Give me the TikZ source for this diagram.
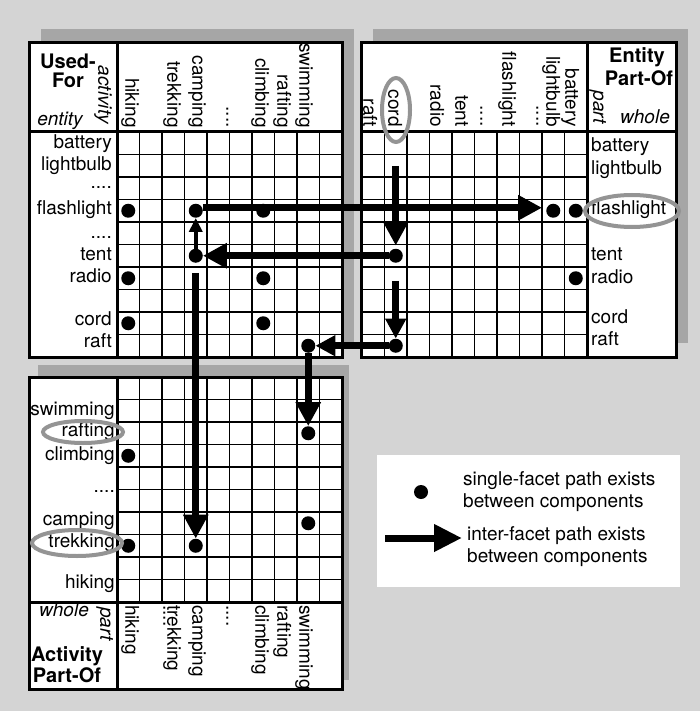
\documentclass[tikz,border=0pt]{standalone}
\usepackage{fontspec}
\setmainfont{TeX Gyre Heros}
\usetikzlibrary{arrows.meta}
\definecolor{bg}{HTML}{D4D4D4}
\definecolor{shadowc}{HTML}{A6A6A6}
\definecolor{ringc}{HTML}{949494}
\newcommand{\fourdots}{.{}.{}.{}.}
\begin{document}
\begin{tikzpicture}[x=1pt,y=-1pt,
  lab/.style={font=\fontsize{19}{21}\selectfont, inner sep=0pt, text height=13.5pt, text depth=4pt},
  dotlab/.style={lab, text height=3pt, text depth=0pt},
  collab/.style={lab, rotate=-90},
  boldlab/.style={lab, font=\fontsize{20}{22}\selectfont\bfseries},
  itlab/.style={lab, font=\fontsize{19}{21}\selectfont\itshape},
  gridline/.style={line width=1.8pt},
  frame/.style={line width=3pt},
  dot/.style={circle, fill=black, minimum size=14pt, inner sep=0pt},
  ring/.style={draw=ringc, line width=4pt},
  bigarrow/.style={line width=7pt, -{Triangle[length=24pt,width=24pt]}},
  midarrow/.style={line width=7pt, -{Triangle[length=20pt,width=20pt]}},
  smallarrow/.style={line width=4.5pt, -{Triangle[length=14pt,width=13pt]}}]
\useasboundingbox (0,0) rectangle (700,711);
\fill[bg] (0,0) rectangle (700,711);
% shadows
\fill[shadowc] (41,29) rectangle (354,343);
\fill[shadowc] (373,29) rectangle (688,343);
\fill[shadowc] (38,365) rectangle (349,680);
% panels
\fill[white] (29,43) rectangle (342,357);
\fill[white] (361,43) rectangle (676,357);
\fill[white] (29,377) rectangle (342,689);
% legend box
\fill[white] (377,455) rectangle (680,587);
% grids
\foreach \i in {1,2,3,4,5,6,7,8,9} {
  \draw[gridline] ({117+22.5*\i},132) -- ({117+22.5*\i},357);
  \draw[gridline] (117,{132+22.5*\i}) -- (342,{132+22.5*\i});
  \draw[gridline] ({362+22.5*\i},132) -- ({362+22.5*\i},357);
  \draw[gridline] (361,{132+22.5*\i}) -- (587,{132+22.5*\i});
  \draw[gridline] ({117+22.5*\i},377) -- ({117+22.5*\i},602);
  \draw[gridline] (117,{377+22.5*\i}) -- (342,{377+22.5*\i});
}
% frames
\draw[frame] (29,43) rectangle (342,357);
\draw[frame] (117,43) -- (117,357);
\draw[frame] (29,132) -- (342,132);
\draw[frame] (361,43) rectangle (676,357);
\draw[frame] (587,43) -- (587,357);
\draw[frame] (361,132) -- (676,132);
\draw[frame] (29,377) rectangle (342,689);
\draw[frame] (117,377) -- (117,689);
\draw[frame] (29,602) -- (342,602);
% corner labels
\node[boldlab] (uf1) at (68,64) {Used-};
\node[boldlab] (uf2) at (68,83) {For};
\node[itlab, rotate=-90, anchor=east] (act) at (103,124) {activity};
\node[itlab] (ent) at (60,121) {entity};
\node[boldlab] (epo1) at (637,58) {Entity};
\node[boldlab] (epo2) at (639,81) {Part-Of};
\node[itlab, rotate=-90, anchor=east] (trpart) at (598,124) {part};
\node[itlab] (trwhole) at (645,119) {whole};
\node[itlab] (blwhole) at (64,612) {whole};
\node[itlab, rotate=-90, anchor=west] (blpart) at (105,607) {part};
\node[boldlab] (apo1) at (67,657) {Activity};
\node[boldlab] (apo2) at (67,678) {Part-Of};
% column headers
\foreach \n/\t/\x in {a/hiking/130, b/trekking/172, c/camping/197, d/\fourdots/231, e/climbing/260, f/rafting/282, g/swimming/304}
  \node[collab, anchor=east] (tlcol\n) at (\x,128) {\t};
\foreach \n/\t/\x in {a/raft/368, b/cord/393, c/radio/435, d/tent/460, e/\fourdots/485, f/flashlight/507, g/\fourdots/541, h/lightbulb/551, i/battery/570}
  \node[collab, anchor=east] (trcol\n) at (\x,127) {\t};
\foreach \n/\t/\x in {a/hiking/130, b/\fourdots/168, c/trekking/172, d/camping/197, e/\fourdots/231, f/climbing/260, g/rafting/282, h/swimming/304}
  \node[collab, anchor=west] (blcol\n) at (\x,605) {\t};
% row labels
\foreach \n/\t/\y in {a/battery/144, b/lightbulb/166, d/flashlight/210, f/tent/256, g/radio/278, h/cord/321, i/raft/343}
  \node[lab, anchor=east] (tlrow\n) at (112,\y) {\t};
\node[dotlab, anchor=east] (tlrowc) at (112,187) {\fourdots};
\node[dotlab, anchor=east] (tlrowe) at (112,237) {\fourdots};
\foreach \n/\t/\y in {a/battery/147, b/lightbulb/170, d/flashlight/210, f/tent/256, g/radio/279, h/cord/319, i/raft/341}
  \node[lab, anchor=west] (trrow\n) at (591,\y) {\t};
\foreach \n/\t/\y in {a/swimming/411, b/rafting/432, c/climbing/456, e/camping/521, f/trekking/543, g/hiking/584}
  \node[lab, anchor=east] (blrow\n) at (115,\y) {\t};
\node[dotlab, anchor=east] (blrowd) at (115,491) {\fourdots};
% dots
\foreach \n/\x/\y in {tl14/128.25/210.75, tl44/195.75/210.75, tl74/263.25/210.75, tl46/195.75/255.75,
  tl17/128.25/278.25, tl77/263.25/278.25, tl19/128.25/323.25, tl79/263.25/323.25, tl910/308.25/345.75,
  tr94/553.25/210.75, tr104/575.75/210.75, tr26/395.75/255.75, tr107/575.75/278.25, tr210/395.75/345.75,
  bl93/308.25/433.25, bl14/128.25/455.75, bl97/308.25/523.25, bl18/128.25/545.75, bl48/195.75/545.75}
  \node[dot] (\n) at (\x,\y) {};
% rings
\draw[ring] (396,110) ellipse [x radius=14, y radius=32];
\draw[ring] (632,211) ellipse [x radius=47, y radius=16];
\draw[ring] (83,432) ellipse [x radius=40, y radius=11];
\draw[ring] (77,543) ellipse [x radius=45, y radius=13];
% arrows
\coordinate (cordtop) at (395.75,166);
\draw[bigarrow, shorten >=4pt] ([yshift=3pt]tl44.east) -- ([yshift=3pt]tr94.west);
\draw[smallarrow] (tl46) -- (tl44);
\draw[bigarrow] (tr26) -- (tl46);
\draw[bigarrow, shorten <=10pt] (tl46) -- (bl48);
\draw[bigarrow, shorten >=3pt] (cordtop) -- (tr26);
\draw[midarrow, shorten <=18pt] (tr26) -- (tr210);
\draw[midarrow] (tr210) -- (tl910);
\draw[bigarrow] (tl910) -- (bl93);
% legend
\node[dot] (legdot) at (421,492) {};
\coordinate (legA) at (385,538);
\coordinate (legB) at (462,538);
\draw[line width=7pt, -{Triangle[length=28pt,width=26pt]}] (legA) -- (legB);
\node[lab, anchor=west] (lt1) at (463,481) {single-facet path exists};
\node[lab, anchor=west] (lt2) at (463,503) {between components};
\node[lab, anchor=west] (lt3) at (467,536) {inter-facet path exists};
\node[lab, anchor=west] (lt4) at (467,558) {between components};
\end{tikzpicture}
\end{document}
